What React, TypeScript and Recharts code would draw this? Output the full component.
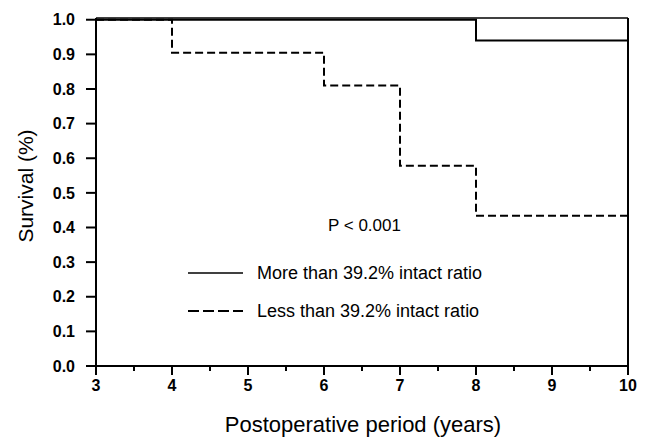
import { ComposedChart, Line, XAxis, YAxis, ReferenceLine } from "recharts";

const xTicks = [3, 3.5, 4, 4.5, 5, 5.5, 6, 6.5, 7, 7.5, 8, 8.5, 9, 9.5, 10];
const yTicks = [0, 0.1, 0.2, 0.3, 0.4, 0.5, 0.6, 0.7, 0.8, 0.9, 1.0];

const moreTimes = [3, 8, 10];
const moreSurvival = [1.0, 0.94, 0.94];

const lessTimes = [3, 4, 6, 7, 8, 10];
const lessSurvival = [1.0, 0.905, 0.81, 0.578, 0.434, 0.434];

const moreData = moreTimes.map((t, i) => ({ t, s: moreSurvival[i] }));
const lessData = lessTimes.map((t, i) => ({ t, s: lessSurvival[i] }));

const FONT = "'Liberation Sans', Arial, sans-serif";

// half-year ticks are short and have no label
const XTick = ({ x, y, payload }: any) => {
  const v = payload.value;
  const major = Number.isInteger(v);
  return (
    <g>
      <line x1={x} y1={y} x2={x} y2={y + (major ? 9 : 5)} stroke="#000" strokeWidth={2} />
      {major && (
        <text x={x} y={y + 25} textAnchor="middle" fontFamily={FONT} fontSize={16} fontWeight="bold" fill="#000">
          {v}
        </text>
      )}
    </g>
  );
};

const YTick = ({ x, y, payload }: any) => (
  <text x={x} y={y} dy="0.355em" textAnchor="end" fontFamily={FONT} fontSize={16} fontWeight="bold" fill="#000">
    {payload.value.toFixed(1)}
  </text>
);

// legend + p-value, laid over the plot
const Notes = () => (
  <div style={{ position: "absolute", left: 180, top: 210, width: 330, height: 120, fontFamily: FONT, color: "#000" }}>
    <div style={{ position: "absolute", left: 148, top: 6, fontSize: 17 }}>P &lt; 0.001</div>
    <svg style={{ position: "absolute", left: 0, top: 0 }} width={80} height={120}>
      <line x1={8} y1={63} x2={63} y2={63} stroke="#000" strokeWidth={1.5} />
      <line x1={8} y1={101} x2={63} y2={101} stroke="#000" strokeWidth={2} strokeDasharray="11 4" />
    </svg>
    <div style={{ position: "absolute", left: 77, top: 52, fontSize: 18, lineHeight: "22px", whiteSpace: "nowrap" }}>
      More than 39.2% intact ratio
    </div>
    <div style={{ position: "absolute", left: 77, top: 90, fontSize: 18, lineHeight: "22px", whiteSpace: "nowrap" }}>
      Less than 39.2% intact ratio
    </div>
  </div>
);

export default function App() {
  return (
    <div style={{ position: "absolute", left: 0, top: 0, width: 646, height: 438, background: "#fff" }}>
      <ComposedChart width={646} height={438} margin={{ top: 18, right: 18, bottom: 0, left: 0 }}>
        <XAxis
          type="number"
          dataKey="t"
          domain={[3, 10]}
          ticks={xTicks}
          interval={0}
          tickSize={0}
          tickMargin={0}
          tickLine={false}
          tick={<XTick />}
          height={72}
          axisLine={{ stroke: "#000", strokeWidth: 2 }}
          allowDuplicatedCategory={false}
          label={{
            content: ({ viewBox }: any) => (
              <text
                x={viewBox.x + viewBox.width / 2 + 1}
                y={viewBox.y + 66}
                textAnchor="middle"
                fontFamily={FONT}
                fontSize={22}
                fill="#000"
              >
                Postoperative period (years)
              </text>
            ),
          }}
        />
        <YAxis
          type="number"
          dataKey="s"
          domain={[0, 1.005]}
          ticks={yTicks}
          interval={0}
          width={96}
          tickSize={10}
          tickMargin={11}
          tick={<YTick />}
          tickLine={{ stroke: "#000", strokeWidth: 2 }}
          axisLine={{ stroke: "#000", strokeWidth: 2 }}
          label={{
            content: () => (
              <text
                x={33}
                y={186}
                transform="rotate(-90, 33, 186)"
                textAnchor="middle"
                fontFamily={FONT}
                fontSize={21}
                fill="#000"
              >
                Survival (%)
              </text>
            ),
          }}
        />
        <ReferenceLine y={1.005} stroke="#000" strokeWidth={1.5} />
        <ReferenceLine x={10} stroke="#000" strokeWidth={2} />
        <Line
          data={lessData}
          dataKey="s"
          type="stepAfter"
          stroke="#000"
          strokeWidth={2}
          strokeDasharray="8 4"
          dot={false}
          isAnimationActive={false}
          name="Less than 39.2% intact ratio"
        />
        <Line
          data={moreData}
          dataKey="s"
          type="stepAfter"
          stroke="#000"
          strokeWidth={2}
          dot={false}
          isAnimationActive={false}
          name="More than 39.2% intact ratio"
        />
      </ComposedChart>
      <Notes />
    </div>
  );
}
